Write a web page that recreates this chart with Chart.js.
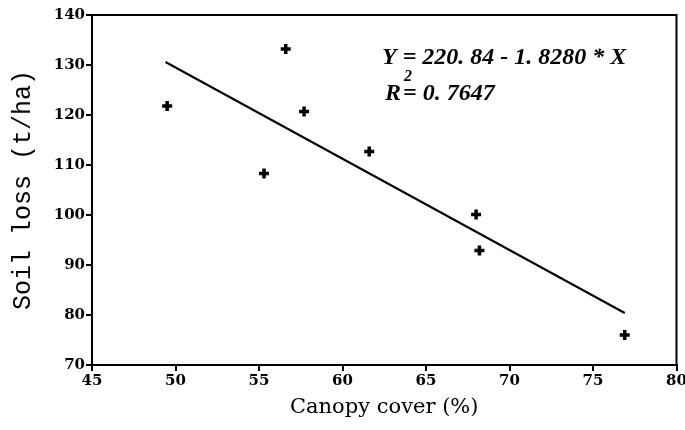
<!DOCTYPE html>
<html lang="en">
<head>
    <meta charset="UTF-8">
    <title>Soil loss vs canopy cover</title>
    <script src="https://cdn.jsdelivr.net/npm/chart.js"></script>
    <style>
        body {
            margin: 0;
            background: #fff;
        }
        .wrap {
            width: 685px;
            height: 430px;
        }
    </style>
</head>
<body>
    <div class="wrap">
        <canvas id="chart" width="685" height="430"></canvas>
    </div>

    <script>
        // observed points
        let canopyCover = [49.5, 55.3, 56.6, 57.7, 61.6, 68.0, 68.2, 76.9];
        let soilLoss = [121.8, 108.3, 133.2, 120.7, 112.7, 100.1, 92.9, 76.0];

        // ends of the fitted line as drawn
        let fitX = [49.4, 76.9];
        let fitY = [130.6, 80.4];

        let xTicks = [45, 50, 55, 60, 65, 70, 75, 80];
        let yTicks = [70, 80, 90, 100, 110, 120, 130, 140];

        let equationText = "Y = 220. 84 - 1. 8280 * X";
        let r2Text = "= 0. 7647";

        let points = canopyCover.map((x, i) => ({ x: x, y: soilLoss[i] }));
        let fitLine = fitX.map((x, i) => ({ x: x, y: fitY[i] }));

        // box around the plot + regression text
        const framePlugin = {
            id: "frame",
            afterDraw(chart) {
                let ctx = chart.ctx;
                let a = chart.chartArea;
                ctx.save();
                ctx.strokeStyle = "#000";
                ctx.lineWidth = 2;
                ctx.strokeRect(a.left, a.top, a.right - a.left, a.bottom - a.top);

                ctx.fillStyle = "#000";
                ctx.textBaseline = "alphabetic";
                ctx.font = "italic bold 24px 'Liberation Serif'";
                ctx.fillText(equationText, 382, 64);
                ctx.fillText("R", 385, 100);
                let rw = ctx.measureText("R").width;
                ctx.font = "italic bold 16px 'Liberation Serif'";
                ctx.fillText("2", 385 + rw + 3, 81);
                ctx.font = "italic bold 24px 'Liberation Serif'";
                ctx.fillText(r2Text, 385 + rw + 2, 100);
                ctx.restore();
            }
        };

        let ctx = document.getElementById("chart").getContext("2d");
        new Chart(ctx, {
            type: "scatter",
            data: {
                datasets: [
                    {
                        label: "Observed",
                        data: points,
                        pointStyle: "cross",
                        pointRadius: 5,
                        borderWidth: 3.5,
                        borderColor: "#000",
                        backgroundColor: "#000"
                    },
                    {
                        type: "line",
                        label: "Fit",
                        data: fitLine,
                        borderColor: "#000",
                        borderWidth: 2,
                        pointRadius: 0,
                        fill: false,
                        tension: 0
                    }
                ]
            },
            options: {
                responsive: false,
                animation: false,
                layout: {
                    padding: { left: 0, top: 15, right: 8, bottom: 0 }
                },
                plugins: {
                    legend: { display: false },
                    tooltip: { enabled: false }
                },
                scales: {
                    x: {
                        type: "linear",
                        min: 45,
                        max: 80,
                        afterBuildTicks: (scale) => {
                            scale.ticks = xTicks.map(v => ({ value: v }));
                        },
                        afterFit: (scale) => {
                            scale.height = 65;
                            scale.paddingLeft = 0;
                            scale.paddingRight = 0;
                        },
                        grid: {
                            drawOnChartArea: false,
                            drawTicks: true,
                            tickLength: 6,
                            color: "#000",
                            lineWidth: 2
                        },
                        border: { color: "#000", width: 2 },
                        ticks: {
                            color: "#000",
                            padding: 1,
                            maxRotation: 0,
                            font: { family: "'DejaVu Serif'", size: 15, weight: "bold" }
                        },
                        title: {
                            display: true,
                            text: "Canopy cover (%)",
                            color: "#000",
                            padding: { top: 0, bottom: 10 },
                            font: { family: "'DejaVu Serif'", size: 21 }
                        }
                    },
                    y: {
                        min: 70,
                        max: 140,
                        afterBuildTicks: (scale) => {
                            scale.ticks = yTicks.map(v => ({ value: v }));
                        },
                        afterFit: (scale) => {
                            scale.width = 92;
                            scale.paddingTop = 0;
                            scale.paddingBottom = 0;
                        },
                        grid: {
                            drawOnChartArea: false,
                            drawTicks: true,
                            tickLength: 6,
                            color: "#000",
                            lineWidth: 2
                        },
                        border: { color: "#000", width: 2 },
                        ticks: {
                            color: "#000",
                            padding: 1,
                            font: { family: "'DejaVu Serif'", size: 15, weight: "bold" }
                        },
                        title: {
                            display: true,
                            text: "Soil loss (t/ha)",
                            color: "#000",
                            padding: { top: 8, bottom: 8 },
                            font: { family: "'Liberation Mono'", size: 25 }
                        }
                    }
                }
            },
            plugins: [framePlugin]
        });
    </script>
</body>
</html>
